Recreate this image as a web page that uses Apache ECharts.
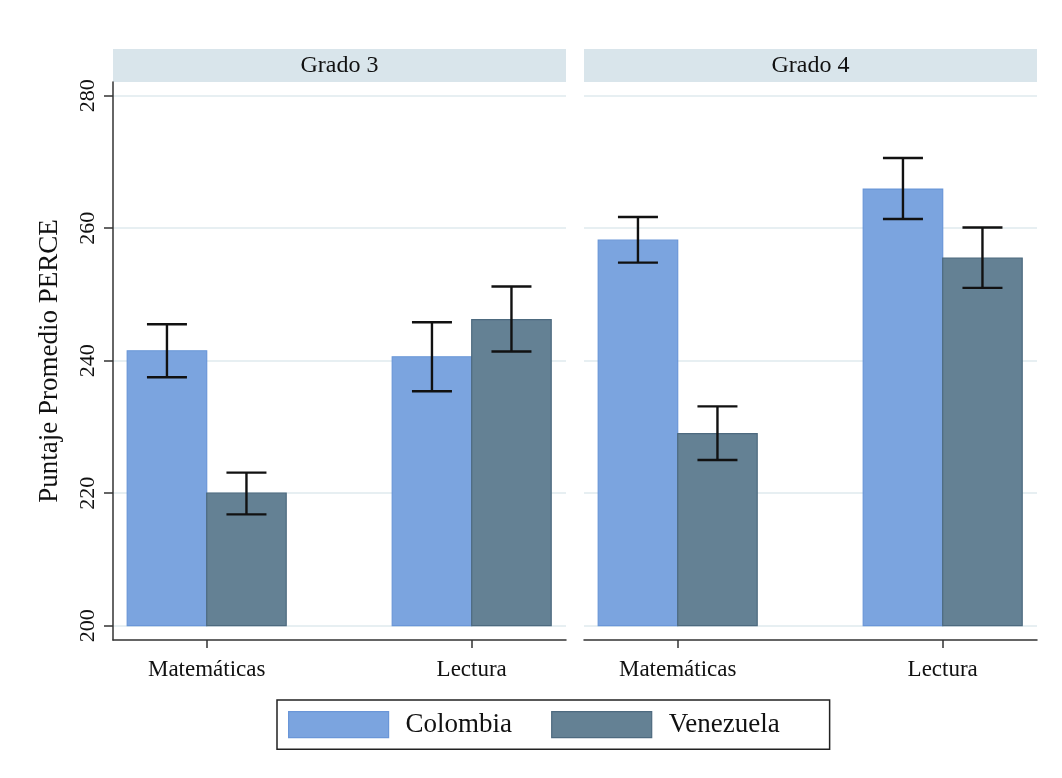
<!DOCTYPE html>
<html>
<head>
<meta charset="utf-8">
<script src="https://cdn.jsdelivr.net/npm/echarts@6/dist/echarts.min.js"></script>
<style>
  html, body { margin: 0; padding: 0; background: #ffffff; }
  #chart { width: 1062px; height: 778px; }
</style>
</head>
<body>
<div id="chart"></div>
<script>
// PERCE average scores by grade, subject and country, with confidence intervals
const grades = ['Grado 3', 'Grado 4'];
const subjects = ['Matemáticas', 'Lectura'];
const countries = ['Colombia', 'Venezuela'];

// mean scores: [grade][subject]
const colombiaMean = [[241.5, 240.6], [258.2, 265.9]];
const venezuelaMean = [[220.0, 246.2], [229.0, 255.5]];

// confidence interval bounds: [grade][subject]
const colombiaLow = [[237.5, 235.4], [254.8, 261.4]];
const colombiaHigh = [[245.5, 245.8], [261.7, 270.6]];
const venezuelaLow = [[216.8, 241.4], [225.0, 251.0]];
const venezuelaHigh = [[223.1, 251.2], [233.1, 260.1]];

const yTicks = [200, 220, 240, 260, 280];

// layout
const FONT = '"Liberation Serif", "Times New Roman", serif';
const PANEL_LEFT = [113, 584];
const PANEL_WIDTH = 453;
const GRID_TOP = 82;
const GRID_BOTTOM = 138;
const STRIP_TOP = 49;
const STRIP_HEIGHT = 33;
const Y_MIN = 197.84, Y_MAX = 282.07, Y_BASE = 200;
const X_MIN = 0.6464, X_MAX = 2.3558;
const BAR_SPAN = 0.3;       // bar width in category units
const CAP_HALF = 20;        // error bar cap half-width, px
const COLORS = {
  Colombia: { fill: '#7ba4df', stroke: '#6a96d8' },
  Venezuela: { fill: '#648194', stroke: '#4d6a7f' }
};

const means = { Colombia: colombiaMean, Venezuela: venezuelaMean };
const lows = { Colombia: colombiaLow, Venezuela: venezuelaLow };
const highs = { Colombia: colombiaHigh, Venezuela: venezuelaHigh };
const sideOffset = { Colombia: -1, Venezuela: 0 };

function barRenderer(country) {
  return function (params, api) {
    const x = api.value(0) + sideOffset[country] * BAR_SPAN;
    const topLeft = api.coord([x, api.value(1)]);
    const bottomRight = api.coord([x + BAR_SPAN, Y_BASE]);
    return {
      type: 'rect',
      shape: {
        x: topLeft[0], y: topLeft[1],
        width: bottomRight[0] - topLeft[0],
        height: bottomRight[1] - topLeft[1]
      },
      style: { fill: COLORS[country].fill, stroke: COLORS[country].stroke, lineWidth: 1.2 }
    };
  };
}

function errorRenderer(country) {
  return function (params, api) {
    const x = api.value(0) + (sideOffset[country] + 0.5) * BAR_SPAN;
    const lo = api.coord([x, api.value(1)]);
    const hi = api.coord([x, api.value(2)]);
    const style = { stroke: '#111111', lineWidth: 2.4 };
    return {
      type: 'group',
      children: [
        { type: 'line', shape: { x1: lo[0], y1: lo[1], x2: hi[0], y2: hi[1] }, style },
        { type: 'line', shape: { x1: lo[0] - CAP_HALF, y1: lo[1], x2: lo[0] + CAP_HALF, y2: lo[1] }, style },
        { type: 'line', shape: { x1: hi[0] - CAP_HALF, y1: hi[1], x2: hi[0] + CAP_HALF, y2: hi[1] }, style }
      ]
    };
  };
}

const grids = [], xAxes = [], yAxes = [], series = [], graphics = [];

grades.forEach(function (grade, g) {
  grids.push({
    left: PANEL_LEFT[g], width: PANEL_WIDTH,
    top: GRID_TOP, bottom: GRID_BOTTOM,
    containLabel: false
  });
  xAxes.push({
    type: 'value', gridIndex: g, min: X_MIN, max: X_MAX,
    axisLine: { show: true, onZero: false, lineStyle: { color: '#333333', width: 1.5 } },
    axisTick: { show: true, length: 8, customValues: [1, 2], lineStyle: { color: '#333333', width: 1.5 } },
    axisLabel: {
      customValues: [1, 2], margin: 18,
      formatter: function (v) { return subjects[Math.round(v) - 1]; },
      fontFamily: FONT, fontSize: 23, color: '#111111'
    },
    splitLine: { show: false }
  });
  yAxes.push({
    type: 'value', gridIndex: g, min: Y_MIN, max: Y_MAX,
    name: g === 0 ? 'Puntaje Promedio PERCE' : '',
    nameLocation: 'middle', nameRotate: 90, nameGap: 50,
    nameTextStyle: { fontFamily: FONT, fontSize: 27, color: '#111111' },
    axisLine: { show: g === 0, lineStyle: { color: '#333333', width: 1.5 } },
    axisTick: { show: g === 0, length: 9, customValues: yTicks, lineStyle: { color: '#333333', width: 1.5 } },
    axisLabel: {
      show: g === 0, customValues: yTicks, rotate: 90, margin: 14,
      fontFamily: FONT, fontSize: 22, color: '#111111'
    },
    splitLine: { show: true, lineStyle: { color: '#e7eff2', width: 2 } }
  });

  countries.forEach(function (country) {
    series.push({
      type: 'custom', name: country, xAxisIndex: g, yAxisIndex: g,
      itemStyle: { color: COLORS[country].fill, borderColor: COLORS[country].stroke, borderWidth: 1.2 },
      renderItem: barRenderer(country),
      encode: { x: 0, y: 1 },
      data: subjects.map(function (s, i) { return [i + 1, means[country][g][i]]; })
    });
  });
  countries.forEach(function (country) {
    series.push({
      type: 'custom', name: country + ' IC', xAxisIndex: g, yAxisIndex: g, z: 5,
      renderItem: errorRenderer(country),
      encode: { x: 0, y: [1, 2] },
      data: subjects.map(function (s, i) { return [i + 1, lows[country][g][i], highs[country][g][i]]; })
    });
  });

  // panel header strip
  graphics.push({
    type: 'group', left: PANEL_LEFT[g], top: STRIP_TOP,
    children: [
      { type: 'rect', shape: { x: 0, y: 0, width: PANEL_WIDTH, height: STRIP_HEIGHT }, style: { fill: '#d9e5eb' } },
      {
        type: 'text', x: PANEL_WIDTH / 2, y: STRIP_HEIGHT / 2,
        style: { text: grade, fontFamily: FONT, fontSize: 24, fill: '#111111', align: 'center', verticalAlign: 'middle' }
      }
    ]
  });
});

const chart = echarts.init(document.getElementById('chart'), null, { renderer: 'canvas' });
chart.setOption({
  backgroundColor: '#ffffff',
  animation: false,
  grid: grids,
  xAxis: xAxes,
  yAxis: yAxes,
  legend: {
    data: countries.map(function (c) {
      return { name: c, icon: 'rect', itemStyle: { color: COLORS[c].fill, borderColor: COLORS[c].stroke, borderWidth: 1.2 } };
    }),
    left: 277, top: 700,
    orient: 'horizontal',
    itemWidth: 100, itemHeight: 26, itemGap: 39,
    padding: [11, 50, 11, 11],
    borderColor: '#222222', borderWidth: 1.5,
    selectedMode: false,
    textStyle: { fontFamily: FONT, fontSize: 27, color: '#111111', padding: [0, 0, 0, 12] }
  },
  graphic: graphics,
  series: series
});
</script>
</body>
</html>
